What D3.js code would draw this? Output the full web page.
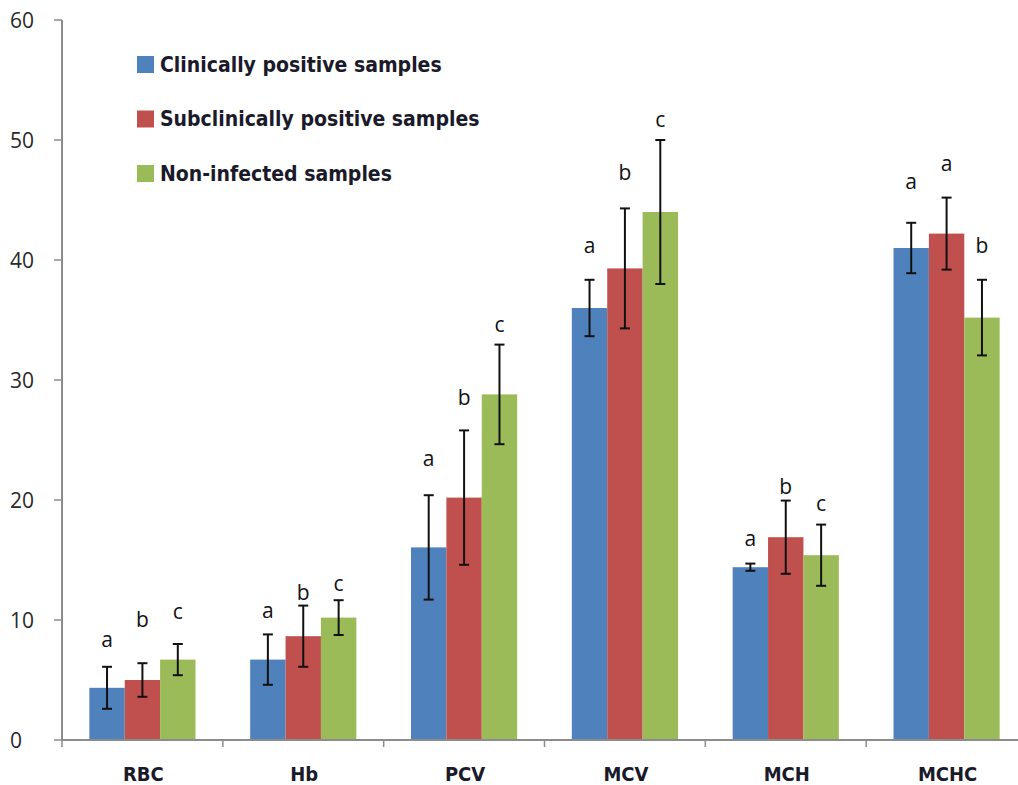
<!DOCTYPE html>
<html><head><meta charset="utf-8">
<script src="https://cdn.jsdelivr.net/npm/d3@7"></script>
<style>body{margin:0;background:#fff}svg{display:block}</style>
</head><body>
<svg id="chart" width="1018" height="785"></svg>
<script>
const categories = ["RBC", "Hb", "PCV", "MCV", "MCH", "MCHC"];
const seriesNames = ["Clinically positive samples", "Subclinically positive samples", "Non-infected samples"];
const seriesColors = ["#4F81BD", "#C0504D", "#9BBB59"];
const clinical     = [4.35, 6.7, 16.05, 36.0, 14.4, 41.0];
const subclinical  = [5.0, 8.65, 20.2, 39.3, 16.9, 42.2];
const nonInfected  = [6.7, 10.2, 28.8, 44.0, 15.4, 35.2];
const clinicalErr    = [1.75, 2.1, 4.35, 2.35, 0.3, 2.1];
const subclinicalErr = [1.4, 2.55, 5.6, 5.0, 3.05, 3.0];
const nonInfectedErr = [1.3, 1.45, 4.15, 6.0, 2.55, 3.15];
const clinicalLetters    = ["a", "a", "a", "a", "a", "a"];
const subclinicalLetters = ["b", "b", "b", "b", "b", "a"];
const nonInfectedLetters = ["c", "c", "c", "c", "c", "b"];
// letter baseline heights (in data units)
const clinicalLetterY    = [7.75, 10.2, 22.8, 40.6, 16.2, 45.9];
const subclinicalLetterY = [9.4, 11.7, 27.9, 46.7, 20.5, 47.4];
const nonInfectedLetterY = [10.1, 12.4, 34.0, 51.1, 19.1, 40.6];
const yTicks = [0, 10, 20, 30, 40, 50, 60];

const values = [clinical, subclinical, nonInfected];
const errs = [clinicalErr, subclinicalErr, nonInfectedErr];
const letters = [clinicalLetters, subclinicalLetters, nonInfectedLetters];
const letterYs = [clinicalLetterY, subclinicalLetterY, nonInfectedLetterY];

const svg = d3.select("#chart");
const x0 = 62, x1 = 1027, yTop = 20, yBot = 740;
const x = d3.scaleBand().domain(categories).range([x0, x1]).padding(0);
const bw = x.bandwidth();
const xi = d3.scaleBand().domain(d3.range(3)).range([bw * 0.17, bw * 0.83]).padding(0);
const y = d3.scaleLinear().domain([0, 60]).range([yBot, yTop]);

const axisColor = "#8c8c8c";
const rows = [];
categories.forEach((c, ci) => {
  for (let s = 0; s < 3; s++) rows.push({c, ci, s, v: values[s][ci], e: errs[s][ci], l: letters[s][ci], ly: letterYs[s][ci]});
});
svg.append("g").selectAll("rect").data(rows).join("rect")
  .attr("x", d => x(d.c) + xi(d.s))
  .attr("width", xi.bandwidth())
  .attr("y", d => y(d.v))
  .attr("height", d => y(0) - y(d.v))
  .attr("fill", d => seriesColors[d.s]);

// axes
svg.append("line").attr("x1", x0).attr("x2", x0).attr("y1", y(60)).attr("y2", y(0)).attr("stroke", axisColor).attr("stroke-width", 2);
svg.append("line").attr("x1", x0).attr("x2", x1).attr("y1", y(0)).attr("y2", y(0)).attr("stroke", axisColor).attr("stroke-width", 2);
svg.append("g").selectAll("line").data(yTicks).join("line")
  .attr("x1", x0 - 8).attr("x2", x0).attr("y1", d => y(d)).attr("y2", d => y(d))
  .attr("stroke", axisColor).attr("stroke-width", 1.5);
svg.append("g").selectAll("text").data(yTicks).join("text")
  .attr("x", 10).attr("y", d => y(d)).attr("dy", "0.36em")
  .attr("font-family", "'Open Sans', Lato, sans-serif").attr("font-size", 21)
  .attr("fill", "#2a2a2a").text(d => d);
const bounds = categories.map(c => x(c)).concat([x1]);
svg.append("g").selectAll("line").data(bounds).join("line")
  .attr("x1", d => d).attr("x2", d => d).attr("y1", y(0)).attr("y2", y(0) + 7)
  .attr("stroke", axisColor).attr("stroke-width", 1.5);
svg.append("g").selectAll("text").data(categories).join("text")
  .attr("x", d => x(d) + bw / 2 + 1).attr("y", 781)
  .attr("text-anchor", "middle")
  .attr("font-family", "'DejaVu Sans Condensed', 'DejaVu Sans', sans-serif").attr("font-weight", "bold").attr("font-size", 20)
  .attr("fill", "#1a1a2a").text(d => d);

// error bars
const eg = svg.append("g").attr("stroke", "#111").attr("stroke-width", 2);
rows.forEach(d => {
  const cx = x(d.c) + xi(d.s) + xi.bandwidth() / 2;
  eg.append("line").attr("x1", cx).attr("x2", cx).attr("y1", y(d.v + d.e)).attr("y2", y(d.v - d.e));
  eg.append("line").attr("x1", cx - 5).attr("x2", cx + 5).attr("y1", y(d.v + d.e)).attr("y2", y(d.v + d.e));
  eg.append("line").attr("x1", cx - 5).attr("x2", cx + 5).attr("y1", y(d.v - d.e)).attr("y2", y(d.v - d.e));
});

// letters
svg.append("g").selectAll("text").data(rows).join("text")
  .attr("x", d => x(d.c) + xi(d.s) + xi.bandwidth() / 2)
  .attr("y", d => y(d.ly))
  .attr("text-anchor", "middle")
  .attr("font-family", "'Open Sans', Lato, sans-serif").attr("font-size", 21)
  .attr("fill", "#111").text(d => d.l);

// legend
const lg = svg.append("g");
seriesNames.forEach((n, i) => {
  const cy = 64 + i * 54.5;
  lg.append("rect").attr("x", 137).attr("y", cy - 8).attr("width", 17).attr("height", 17).attr("fill", seriesColors[i]);
  lg.append("text").attr("x", 160).attr("y", cy).attr("dy", "0.36em")
    .attr("font-family", "'DejaVu Sans Condensed', 'DejaVu Sans', sans-serif").attr("font-weight", "bold").attr("font-size", 21)
    .attr("fill", "#1a1a2a").text(n);
});
</script>
</body></html>
